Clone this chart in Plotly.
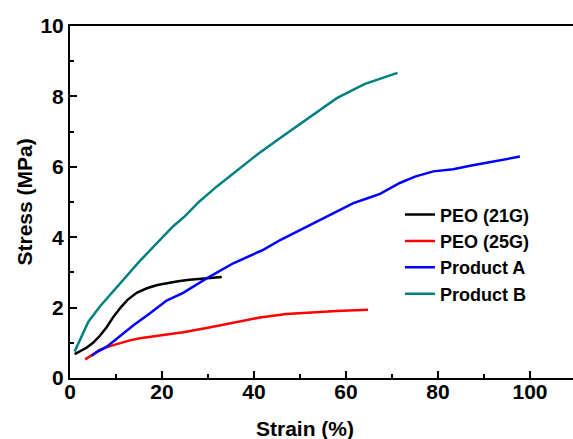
import plotly.graph_objects as go

# PEO (21G)
peo21_x = [1.0, 2, 3.6, 5, 6.5, 8, 9.5, 11, 12.5, 14.5, 16.7, 19, 21, 23.5, 26, 29.7, 33]
peo21_y = [0.68, 0.75, 0.86, 1.0, 1.2, 1.45, 1.75, 2.0, 2.22, 2.42, 2.55, 2.64, 2.69, 2.75, 2.79, 2.83, 2.87]

# PEO (25G)
peo25_x = [3.3, 5, 6.5, 8.5, 10.9, 13, 15.2, 19.6, 24.6, 29.7, 35.5, 41.3, 47, 52.9, 58, 64.8]
peo25_y = [0.53, 0.68, 0.8, 0.9, 0.99, 1.07, 1.13, 1.2, 1.3, 1.42, 1.58, 1.72, 1.82, 1.87, 1.9, 1.94]

# Product A
prodA_x = [4.7, 6, 8, 10.9, 13.8, 17.4, 21, 24.6, 29.7, 35.5, 42, 45.7, 53.6, 61.6, 65, 67.4,
           71.7, 75, 79, 83.3, 87, 90.6, 94, 97.8]
prodA_y = [0.63, 0.75, 0.89, 1.2, 1.5, 1.84, 2.2, 2.42, 2.83, 3.26, 3.64, 3.92, 4.44, 4.97, 5.12, 5.23,
           5.54, 5.72, 5.87, 5.93, 6.03, 6.12, 6.2, 6.29]

# Product B
prodB_x = [1.0, 2, 4, 6.5, 9, 12.3, 15, 17.8, 20, 22.5, 25, 28, 32, 37, 41, 45.7, 50, 54.3,
           58, 61, 64, 66.7, 69, 71.2]
prodB_y = [0.75, 1.05, 1.6, 2.03, 2.4, 2.9, 3.3, 3.68, 3.98, 4.32, 4.6, 5.0, 5.45, 5.96, 6.38, 6.82,
           7.22, 7.62, 7.95, 8.15, 8.35, 8.47, 8.58, 8.67]

series = [
    ("PEO (21G)", peo21_x, peo21_y, "#000000"),
    ("PEO (25G)", peo25_x, peo25_y, "#FF0000"),
    ("Product A", prodA_x, prodA_y, "#0000FF"),
    ("Product B", prodB_x, prodB_y, "#008080"),
]

x_ticks = [0, 20, 40, 60, 80, 100]
y_ticks = [0, 2, 4, 6, 8, 10]

FONT = "Liberation Sans, Arial, sans-serif"

fig = go.Figure()
for name, xs, ys, col in series:
    fig.add_trace(go.Scatter(x=xs, y=ys, mode="lines", name=name,
                             line=dict(color=col, width=2.5)))

axis_common = dict(
    showgrid=False, zeroline=False, showline=True, linecolor="black", linewidth=2,
    ticks="inside", ticklen=7, tickwidth=2, tickcolor="black", automargin=False,
    tickfont=dict(family=FONT, size=21, color="black", weight="bold"),
)

fig.update_xaxes(range=[0, 109.35], tickvals=x_ticks, mirror=True, ticklabelstandoff=-6,
                 minor=dict(ticks="inside", ticklen=4, tickwidth=2, tickcolor="black",
                            tickvals=[10, 30, 50, 70, 90]),
                 **axis_common)
fig.update_yaxes(range=[0, 10], tickvals=y_ticks, mirror=False,
                 minor=dict(ticks="inside", ticklen=4, tickwidth=2, tickcolor="black",
                            tickvals=[1, 3, 5, 7, 9]),
                 **axis_common)

fig.update_layout(
    width=573, height=439,
    margin=dict(l=70, r=0, t=26, b=61),
    paper_bgcolor="white", plot_bgcolor="white",
    showlegend=True,
    legend=dict(x=0.656, y=0.516, xanchor="left", yanchor="top",
                bgcolor="rgba(0,0,0,0)", borderwidth=0,
                font=dict(family=FONT, size=18, color="black", weight="bold"),
                tracegroupgap=0),
    annotations=[
        dict(text="Strain (%)", xref="paper", yref="paper", x=0.468, y=0,
             yshift=-50, xanchor="center", yanchor="middle", showarrow=False,
             font=dict(family=FONT, size=21, color="black", weight="bold")),
        dict(text="Stress (MPa)", xref="paper", yref="paper", x=0, y=0.5,
             xshift=-46.5, xanchor="center", yanchor="middle", showarrow=False, textangle=-90,
             font=dict(family=FONT, size=21, color="black", weight="bold")),
    ],
)

fig.write_html("out.html", config={"displayModeBar": False},
               post_script="document.body.style.margin='0';document.body.style.overflow='hidden';")
